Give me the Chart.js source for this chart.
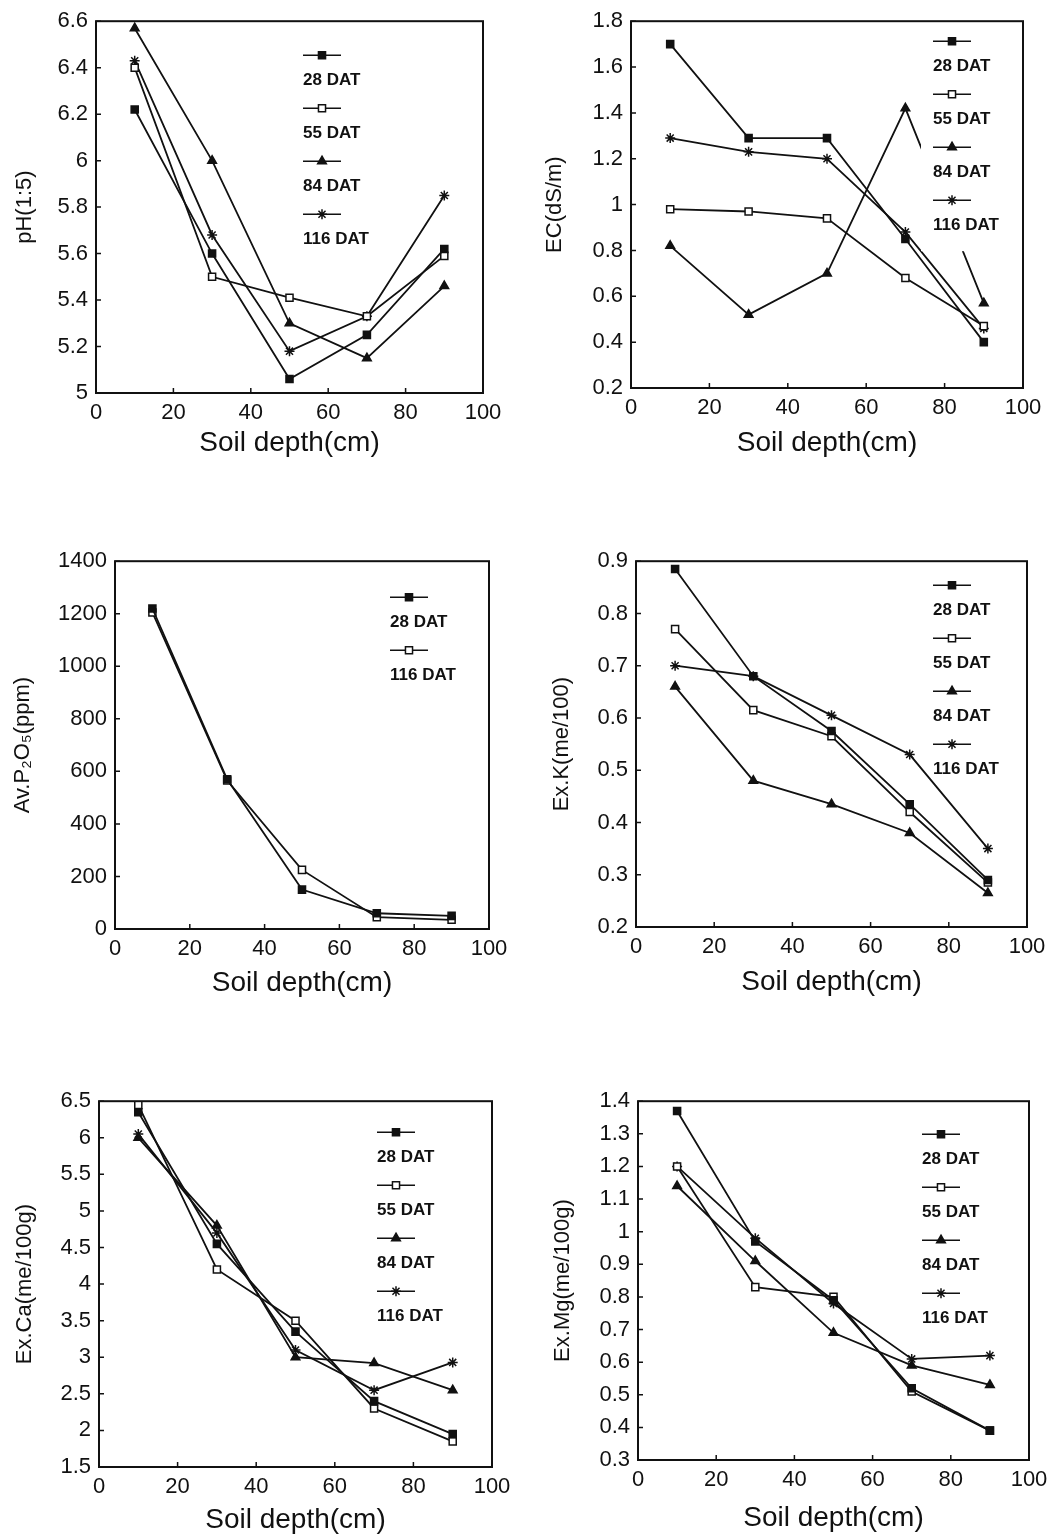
<!DOCTYPE html>
<html>
<head>
<meta charset="utf-8">
<script src="https://cdn.jsdelivr.net/npm/chart.js@4.4.0/dist/chart.umd.min.js"></script>
<style>
  body { margin: 0; background: #fff; width: 1062px; height: 1537px; position: relative; overflow: hidden; }
  canvas { position: absolute; }
</style>
</head>
<body>
<canvas id="c1"></canvas>
<canvas id="c2"></canvas>
<canvas id="c3"></canvas>
<canvas id="c4"></canvas>
<canvas id="c5"></canvas>
<canvas id="c6"></canvas>
<script>
// soil depth (cm) - same for every panel
const depth = [10, 30, 50, 70, 90];
const dat4 = ["28 DAT", "55 DAT", "84 DAT", "116 DAT"];
const dat2 = ["28 DAT", "116 DAT"];

// pH(1:5)
const pH28 = [6.22, 5.60, 5.06, 5.25, 5.62];
const pH55 = [6.40, 5.50, 5.41, 5.33, 5.59];
const pH84 = [6.57, 6.00, 5.30, 5.15, 5.46];
const pH116 = [6.43, 5.68, 5.18, 5.33, 5.85];

// EC(dS/m)
const ec28 = [1.70, 1.29, 1.29, 0.85, 0.40];
const ec55 = [0.98, 0.97, 0.94, 0.68, 0.47];
const ec84 = [0.82, 0.52, 0.70, 1.42, 0.57];
const ec116 = [1.29, 1.23, 1.20, 0.88, 0.46];

// Av.P2O5 (ppm)
const p28 = [1220, 570, 150, 60, 50];
const p116 = [1205, 565, 225, 45, 35];

// Ex.K (me/100)
const k28 = [0.885, 0.68, 0.575, 0.435, 0.29];
const k55 = [0.77, 0.615, 0.565, 0.42, 0.285];
const k84 = [0.66, 0.48, 0.435, 0.38, 0.265];
const k116 = [0.70, 0.68, 0.605, 0.53, 0.35];

// Ex.Ca (me/100g)
const ca28 = [6.35, 4.55, 3.35, 2.40, 1.95];
const ca55 = [6.45, 4.20, 3.50, 2.30, 1.85];
const ca84 = [6.00, 4.80, 3.00, 2.92, 2.55];
const ca116 = [6.05, 4.70, 3.10, 2.55, 2.93];

// Ex.Mg (me/100g)
const mg28 = [1.37, 0.97, 0.79, 0.52, 0.39];
const mg55 = [1.20, 0.83, 0.80, 0.51, 0.39];
const mg84 = [1.14, 0.91, 0.69, 0.59, 0.53];
const mg116 = [1.20, 0.98, 0.78, 0.61, 0.62];

const INK = "#111";
const FONT = "'Liberation Sans', Arial, sans-serif";

// marker looks
const FILLED_SQ = { pointStyle: "rect", pointBackgroundColor: INK };
const OPEN_SQ = { pointStyle: "rect", pointBackgroundColor: "#fff" };
const TRI = { pointStyle: "triangle", pointBackgroundColor: INK };
const STAR = { pointStyle: "star", pointBackgroundColor: INK };

const panels = [
  { id: "c1", yTitle: "pH(1:5)", yMin: 5, yMax: 6.6, yStep: 0.2,
    series: [pH28, pH55, pH84, pH116], names: dat4, styles: [FILLED_SQ, OPEN_SQ, TRI, STAR],
    box: [0, 0, 520, 470], area: [96, 18, 483, 393], xTitleY: 443, yTitleX: 25, legend: [207, 34] },
  { id: "c2", yTitle: "EC(dS/m)", yMin: 0.2, yMax: 1.8, yStep: 0.2,
    series: [ec28, ec55, ec84, ec116], names: dat4, styles: [FILLED_SQ, OPEN_SQ, TRI, STAR],
    box: [530, 0, 532, 470], area: [631, 13, 1023, 388], xTitleY: 443, yTitleX: 555, legend: [302, 20], clear: true },
  { id: "c3", yTitle: "Av.P\u2082O\u2085(ppm)", yMin: 0, yMax: 1400, yStep: 200,
    series: [p28, p116], names: dat2, styles: [FILLED_SQ, OPEN_SQ],
    box: [0, 540, 520, 470], area: [115, 558, 489, 929], xTitleY: 983, yTitleX: 23, legend: [275, 36] },
  { id: "c4", yTitle: "Ex.K(me/100)", yMin: 0.2, yMax: 0.9, yStep: 0.1,
    series: [k28, k55, k84, k116], names: dat4, styles: [FILLED_SQ, OPEN_SQ, TRI, STAR],
    box: [530, 540, 532, 470], area: [636, 553, 1027, 927], xTitleY: 982, yTitleX: 562, legend: [297, 24] },
  { id: "c5", yTitle: "Ex.Ca(me/100g)", yMin: 1.5, yMax: 6.5, yStep: 0.5,
    series: [ca28, ca55, ca84, ca116], names: dat4, styles: [FILLED_SQ, OPEN_SQ, TRI, STAR],
    box: [0, 1080, 520, 457], area: [99, 1097, 492, 1467], xTitleY: 1520, yTitleX: 25, legend: [278, 31] },
  { id: "c6", yTitle: "Ex.Mg(me/100g)", yMin: 0.3, yMax: 1.4, yStep: 0.1,
    series: [mg28, mg55, mg84, mg116], names: dat4, styles: [FILLED_SQ, OPEN_SQ, TRI, STAR],
    box: [530, 1080, 532, 457], area: [638, 1090, 1029, 1460], xTitleY: 1518, yTitleX: 563, legend: [284, 33] },
];

// box round the plot + short inward ticks
const framePlugin = {
  id: "frame",
  afterDatasetsDraw(chart) {
    const { ctx, chartArea: a, scales } = chart;
    ctx.save();
    ctx.strokeStyle = INK;
    ctx.lineWidth = 2;
    ctx.strokeRect(a.left, a.top, a.right - a.left, a.bottom - a.top);
    ctx.lineWidth = 1.5;
    ctx.beginPath();
    scales.x.ticks.forEach((t) => {
      const px = scales.x.getPixelForValue(t.value);
      ctx.moveTo(px, a.bottom);
      ctx.lineTo(px, a.bottom - 5);
    });
    scales.y.ticks.forEach((t) => {
      const py = scales.y.getPixelForValue(t.value);
      ctx.moveTo(a.left, py);
      ctx.lineTo(a.left + 5, py);
    });
    ctx.stroke();
    ctx.restore();
  },
};

// legend: line with marker, label underneath, stacked
const stackLegend = {
  id: "stackLegend",
  afterDatasetsDraw(chart, args, opts) {
    const { ctx, chartArea: a } = chart;
    const x0 = a.left + opts.at[0];
    const y0 = a.top + opts.at[1];
    const step = 53;
    const n = chart.data.datasets.length;
    ctx.save();
    if (opts.clear) {
      ctx.fillStyle = "#fff";
      ctx.fillRect(x0 - 12, y0 - 12, 92, (n - 1) * step + 25 + 26 + 12);
    }
    chart.data.datasets.forEach((ds, i) => {
      const y = y0 + i * step;
      ctx.strokeStyle = INK;
      ctx.lineWidth = 1.5;
      ctx.beginPath();
      ctx.moveTo(x0, y);
      ctx.lineTo(x0 + 38, y);
      ctx.stroke();
      ctx.fillStyle = ds.pointBackgroundColor;
      Chart.helpers.drawPoint(ctx, { pointStyle: ds.pointStyle, radius: 5, rotation: 0, borderWidth: 1.5 }, x0 + 19, y);
      ctx.fillStyle = INK;
      ctx.font = "bold 17px " + FONT;
      ctx.textBaseline = "middle";
      ctx.textAlign = "left";
      ctx.fillText(ds.label, x0, y + 25);
    });
    ctx.restore();
  },
};

function tickText(v) {
  return String(+Number(v).toFixed(2));
}

panels.forEach((p) => {
  const cv = document.getElementById(p.id);
  const [bl, bt, bw, bh] = p.box;
  const [al, at, ar, ab] = p.area;
  cv.width = bw;
  cv.height = bh;
  cv.style.left = bl + "px";
  cv.style.top = bt + "px";

  const xTitleSize = 28, yTitleSize = 22, tickSize = 22;

  new Chart(cv, {
    type: "line",
    data: {
      datasets: p.series.map((vals, i) => ({
        label: p.names[i],
        data: depth.map((d, j) => ({ x: d, y: vals[j] })),
        borderColor: INK,
        borderWidth: 1.8,
        pointBorderColor: INK,
        pointBorderWidth: 1.5,
        pointRadius: 5,
        tension: 0,
        ...p.styles[i],
      })),
    },
    options: {
      responsive: false,
      animation: false,
      layout: { padding: { left: 0, top: at - bt, right: bl + bw - ar, bottom: 0 } },
      plugins: {
        legend: { display: false },
        tooltip: { enabled: false },
        stackLegend: { at: p.legend, clear: !!p.clear },
      },
      scales: {
        x: {
          type: "linear",
          min: 0,
          max: 100,
          grid: { display: false, drawTicks: false },
          border: { display: false },
          ticks: { stepSize: 20, padding: 7, color: INK, font: { family: FONT, size: tickSize } },
          title: {
            display: true,
            text: "Soil depth(cm)",
            color: INK,
            font: { family: FONT, size: xTitleSize },
            padding: { top: 0, bottom: bt + bh - p.xTitleY - xTitleSize * 0.6 },
          },
          afterFit: (s) => { s.height = bt + bh - ab; },
        },
        y: {
          min: p.yMin,
          max: p.yMax,
          grid: { display: false, drawTicks: false },
          border: { display: false },
          ticks: { stepSize: p.yStep, padding: 8, color: INK, font: { family: FONT, size: tickSize }, callback: tickText },
          title: {
            display: true,
            text: p.yTitle,
            color: INK,
            font: { family: FONT, size: yTitleSize },
            padding: { top: p.yTitleX - bl - yTitleSize * 0.6, bottom: 0 },
          },
          afterFit: (s) => { s.width = al - bl; },
        },
      },
    },
    plugins: [framePlugin, stackLegend],
  });
});
</script>
</body>
</html>
